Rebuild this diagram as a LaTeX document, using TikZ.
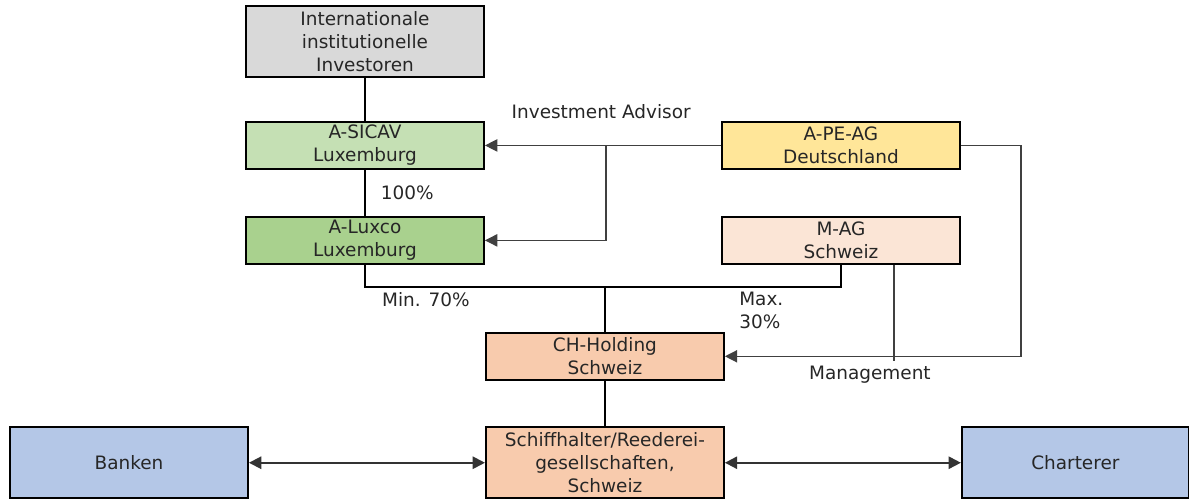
\documentclass[tikz,border=0pt]{standalone}
\usepackage{fontspec}
\setmainfont{DejaVu Sans}
\usetikzlibrary{positioning}
\usetikzlibrary{arrows.meta}
\definecolor{invgray}{HTML}{D9D9D9}
\definecolor{sicavgreen}{HTML}{C5E0B4}
\definecolor{luxcogreen}{HTML}{A9D18E}
\definecolor{apeyellow}{HTML}{FFE699}
\definecolor{magrose}{HTML}{FBE5D6}
\definecolor{chorange}{HTML}{F8CBAD}
\definecolor{bankblue}{HTML}{B4C7E7}
\tikzstyle{every box} = [draw=black, line width=1.1pt, text=black!85]
\tikzstyle{box} = [rectangle, minimum width=4.76cm, minimum height=0.94cm, align=center, inner sep=0pt, font=\fontsize{10.5}{13}\selectfont, every box]
\tikzstyle{tall box} = [box, minimum height=1.42cm]
\tikzstyle{lbl} = [inner sep=0pt, align=left, font=\fontsize{10.5}{13}\selectfont, text=black!85]
\tikzstyle{own} = [draw, black, line width=1.1pt]
\tikzstyle{adv} = [draw, black!75, line width=0.7pt, >={Triangle[length=7pt,width=7pt]}]
\tikzstyle{trade} = [draw, black!80, line width=1.1pt, <->, >={Triangle[length=7pt,width=7pt]}]
\begin{document}
\begin{tikzpicture}[node distance=0.9cm, every edge/.style={own}]
  \useasboundingbox (0,0) rectangle (23.78,-9.98);
  \node[tall box, fill=invgray] (inv) at (7.3,-0.83) {Internationale\\institutionelle\\Investoren};
  \node[box, fill=sicavgreen] (sicav) [below=0.86cm of inv] {A-SICAV\\Luxemburg} edge (inv);
  \node[box, fill=luxcogreen] (luxco) [below=0.92cm of sicav] {A-Luxco\\Luxemburg} edge node[lbl, right=0.3cm] {100\%} (sicav);
  \node[box, fill=apeyellow] (ape) [right=4.72cm of sicav] {A-PE-AG\\Deutschland};
  \node[box, fill=magrose] (mag) [right=4.72cm of luxco] {M-AG\\Schweiz};
  \node[box, fill=chorange] (chh) [below=1.34cm of luxco.south east, anchor=north west] {CH-Holding\\Schweiz};
  \node[tall box, fill=chorange] (schiff) [below=0.91cm of chh] {Schiffhalter/Reederei-\\gesellschaften,\\Schweiz} edge (chh);
  \node[tall box, fill=bankblue] (banken) [left=4.72cm of schiff] {Banken};
  \node[tall box, fill=bankblue, minimum width=4.54cm] (charter) [right=4.72cm of schiff] {Charterer};
  % shareholdings
  \coordinate[above=0.9cm of chh.north] (split);
  \draw[own] (luxco) |- (split) -| (mag);
  \draw[own] (split) -- (chh);
  \node[lbl] (min) [below left=0.1cm and 2.7cm of split] {Min. 70\%};
  \node[lbl] (max) [below right=0.1cm and 2.68cm of split] {Max.\\30\%};
  % advisor and management
  \node[lbl] (advice) [above left=0.04cm and 0.6cm of ape.north west] {Investment Advisor};
  \coordinate[right=2.42cm of sicav.east] (branch);
  \draw[adv, ->] (ape) -- (sicav);
  \draw[adv, ->] (branch) |- (luxco);
  \draw[adv, ->] (ape.east) -- ++(1.2,0) |- (chh);
  \coordinate[right=1.06cm of mag.south] (mtop);
  \coordinate[below=1.92cm of mtop] (mbot);
  \draw[adv] (mtop) -- (mbot);
  \node[lbl] (mgmt) [below=0.1cm of mbot, xshift=-0.48cm] {Management};
  % business partners
  \draw[trade] (banken) -- (schiff);
  \draw[trade] (schiff) -- (charter);
\end{tikzpicture}
\end{document}
